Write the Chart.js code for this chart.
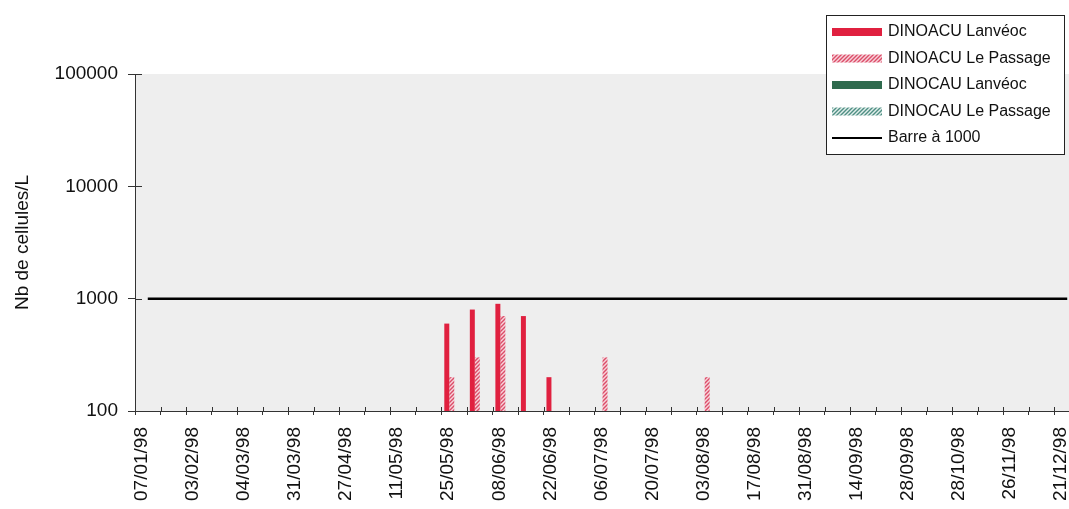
<!DOCTYPE html>
<html>
<head>
<meta charset="utf-8">
<script src="https://cdn.jsdelivr.net/npm/chart.js@4"></script>
<style>
  html, body { margin: 0; padding: 0; background: #fff; overflow: hidden; }
  #wrap { width: 1069px; height: 509px; overflow: hidden; }
</style>
</head>
<body>
<div id="wrap"><canvas id="chart" width="1080" height="509"></canvas></div>
<script>
// 37 dates d'échantillonnage, une sur deux est affichée sous l'axe
const dates = [
  '07/01/98', '', '03/02/98', '', '04/03/98', '', '31/03/98', '', '27/04/98', '',
  '11/05/98', '', '25/05/98', '', '08/06/98', '', '22/06/98', '', '06/07/98', '',
  '20/07/98', '', '03/08/98', '', '17/08/98', '', '31/08/98', '', '14/09/98', '',
  '28/09/98', '', '28/10/98', '', '26/11/98', '', '21/12/98'
];

const dinoacuLanveoc = [
  null, null, null, null, null, null, null, null, null, null,
  null, null, 600, 800, 900, 700, 200, null, null, null,
  null, null, null, null, null, null, null, null, null, null,
  null, null, null, null, null, null, null
];
const dinoacuPassage = [
  null, null, null, null, null, null, null, null, null, null,
  null, null, 200, 300, 700, null, null, null, 300, null,
  null, null, 200, null, null, null, null, null, null, null,
  null, null, null, null, null, null, null
];
const dinocauLanveoc = [
  null, null, null, null, null, null, null, null, null, null,
  null, null, null, null, null, null, null, null, null, null,
  null, null, null, null, null, null, null, null, null, null,
  null, null, null, null, null, null, null
];
const dinocauPassage = [
  null, null, null, null, null, null, null, null, null, null,
  null, null, null, null, null, null, null, null, null, null,
  null, null, null, null, null, null, null, null, null, null,
  null, null, null, null, null, null, null
];
// seuil de 1000 cellules/L
const barre1000 = [
  1000, 1000, 1000, 1000, 1000, 1000, 1000, 1000, 1000, 1000,
  1000, 1000, 1000, 1000, 1000, 1000, 1000, 1000, 1000, 1000,
  1000, 1000, 1000, 1000, 1000, 1000, 1000, 1000, 1000, 1000,
  1000, 1000, 1000, 1000, 1000, 1000, 1000
];
const yTicks = [100, 1000, 10000, 100000];

const fontFamily = 'Arial, "Liberation Sans", sans-serif';
const axisColor = '#333';

// motif hachuré (////)
function hatch(bg, fg) {
  const c = document.createElement('canvas');
  c.width = 4; c.height = 4;
  const g = c.getContext('2d');
  g.fillStyle = bg;
  g.fillRect(0, 0, 4, 4);
  g.strokeStyle = fg;
  g.lineWidth = 1.4;
  g.beginPath();
  g.moveTo(0, 4); g.lineTo(4, 0);
  g.moveTo(-1, 1); g.lineTo(1, -1);
  g.moveTo(3, 5); g.lineTo(5, 3);
  g.stroke();
  return g.createPattern(c, 'repeat');
}

// fond gris de la zone de tracé
const plotBg = {
  id: 'plotBg',
  beforeDraw(chart) {
    const { ctx, chartArea: a } = chart;
    ctx.save();
    ctx.fillStyle = '#eeeeee';
    ctx.fillRect(a.left, a.top, a.right - a.left, a.bottom - a.top);
    ctx.restore();
  }
};

// graduations qui traversent l'axe (partie intérieure)
const crossTicks = {
  id: 'crossTicks',
  afterDatasetsDraw(chart) {
    const { ctx, chartArea: a, scales: { x, y } } = chart;
    ctx.save();
    ctx.strokeStyle = axisColor;
    ctx.lineWidth = 1;
    ctx.beginPath();
    for (let i = 0; i <= dates.length; i++) {
      const px = Math.round(x.getPixelForValue(i - 0.5)) + 0.5;
      ctx.moveTo(px, a.bottom);
      ctx.lineTo(px, a.bottom - 4);
    }
    yTicks.forEach(v => {
      const py = Math.round(y.getPixelForValue(v)) + 0.5;
      ctx.moveTo(a.left, py);
      ctx.lineTo(a.left + 7, py);
    });
    ctx.stroke();
    ctx.restore();
  }
};

// légende encadrée en haut à droite
const boxLegend = {
  id: 'boxLegend',
  afterDraw(chart, args, opts) {
    const ctx = chart.ctx;
    ctx.save();
    ctx.fillStyle = '#fff';
    ctx.fillRect(opts.left, opts.top, opts.width, opts.height);
    ctx.strokeStyle = '#222';
    ctx.lineWidth = 1;
    ctx.strokeRect(opts.left + 0.5, opts.top + 0.5, opts.width, opts.height);
    ctx.font = opts.font;
    ctx.textBaseline = 'middle';
    chart.data.datasets.forEach((ds, i) => {
      const cy = opts.top + opts.firstRow + i * opts.rowH;
      const sx = opts.left + 6;
      if (ds.type === 'line') {
        ctx.strokeStyle = ds.borderColor;
        ctx.lineWidth = 2;
        ctx.beginPath();
        ctx.moveTo(sx, cy);
        ctx.lineTo(sx + opts.swatchW, cy);
        ctx.stroke();
      } else {
        ctx.fillStyle = ds.backgroundColor;
        ctx.fillRect(sx, cy - 4, opts.swatchW, 8);
      }
      ctx.fillStyle = '#111';
      ctx.fillText(ds.label, sx + opts.swatchW + 6, cy);
    });
    ctx.restore();
  }
};

const ctx = document.getElementById('chart').getContext('2d');
new Chart(ctx, {
  type: 'bar',
  data: {
    labels: dates,
    datasets: [
      { label: 'DINOACU Lanvéoc', data: dinoacuLanveoc, backgroundColor: '#e0203f' },
      { label: 'DINOACU Le Passage', data: dinoacuPassage, backgroundColor: hatch('#f7d3da', '#dc4d69') },
      { label: 'DINOCAU Lanvéoc', data: dinocauLanveoc, backgroundColor: '#2f6b4e' },
      { label: 'DINOCAU Le Passage', data: dinocauPassage, backgroundColor: hatch('#e2eeeb', '#4f8f84') },
      {
        type: 'line', label: 'Barre à 1000', data: barre1000,
        borderColor: '#000', borderWidth: 2.5, pointRadius: 0, fill: false
      }
    ]
  },
  options: {
    responsive: false,
    animation: false,
    categoryPercentage: 0.78,
    barPercentage: 1.0,
    layout: { padding: { top: 74, right: 0, bottom: 0, left: 0 } },
    plugins: {
      legend: { display: false },
      tooltip: { enabled: false },
      boxLegend: {
        left: 826, top: 15, width: 238, height: 139,
        firstRow: 17, rowH: 26.5, swatchW: 50,
        font: '16px ' + fontFamily
      }
    },
    scales: {
      x: {
        offset: true,
        grid: { offset: true, drawOnChartArea: false, tickLength: 4, color: axisColor },
        border: { color: axisColor, width: 1 },
        ticks: {
          autoSkip: false, maxRotation: 90, minRotation: 90, padding: 12, labelOffset: -6,
          color: '#111', font: { family: fontFamily, size: 19 }
        },
        afterFit: s => { s.height = 98; s.paddingLeft = 0; s.paddingRight = 0; }
      },
      y: {
        type: 'logarithmic',
        min: 100,
        max: 100000,
        afterBuildTicks: s => { s.ticks = yTicks.map(v => ({ value: v })); },
        grid: { drawOnChartArea: false, tickLength: 7, color: axisColor },
        border: { color: axisColor, width: 1 },
        ticks: {
          padding: 10, color: '#111',
          font: { family: fontFamily, size: 19 },
          callback: v => String(v)
        },
        title: {
          display: true, text: 'Nb de cellules/L', color: '#111',
          font: { family: fontFamily, size: 19 },
          padding: { top: 11, bottom: 0 }
        },
        afterFit: s => { s.width = 135; }
      }
    }
  },
  plugins: [plotBg, crossTicks, boxLegend]
});
</script>
</body>
</html>
